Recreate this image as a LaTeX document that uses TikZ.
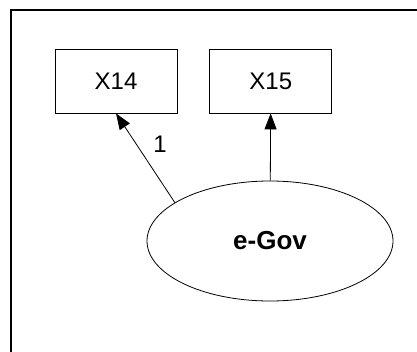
\documentclass[tikz,border=0pt]{standalone}
\usepackage{fontspec}
\setmainfont{Liberation Sans}
\usepackage{tikz}
\usetikzlibrary{arrows.meta, positioning, shapes.geometric}

\begin{document}
\begin{tikzpicture}[x=1pt, y=-1pt, node distance=32pt, font=\fontsize{24}{28}\selectfont,
    obs/.style={rectangle, draw, line width=0.8pt, minimum width=122pt, minimum height=64pt},
    arr/.style={-{Triangle[length=16pt, width=12pt]}, draw, line width=0.8pt}]
    \clip (0,0) rectangle (417,351);
    \draw [line width=2.5pt] (11,360) |- (430,10);

    \node [obs] (x14) at (116,81) {X14};
    \node [obs, right=32pt of x14] (x15) {X15};
    \node [ellipse, draw, line width=0.8pt, minimum width=246pt, minimum height=120pt,
        font=\fontsize{26}{30}\selectfont\bfseries] (egov) at (270,241) {e-Gov};

    \path [arr] (egov.158) -- node [pos=0.65, right=13pt] (one) {1} (x14.south);
    \path [arr] (egov) -- (x15);
\end{tikzpicture}
\end{document}
